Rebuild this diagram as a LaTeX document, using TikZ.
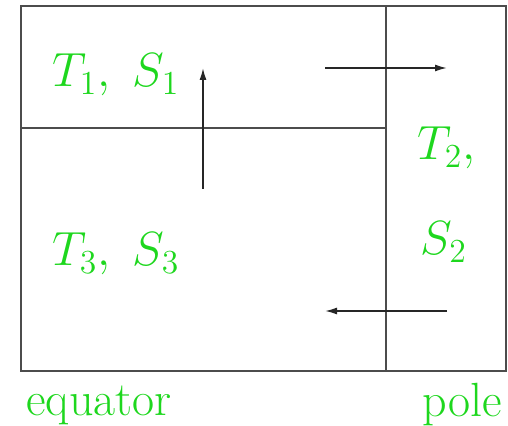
\documentclass[tikz,border=0pt]{standalone}
\usepackage{fix-cm}
\usetikzlibrary{arrows.meta}
\definecolor{wallgray}{gray}{0.3}
\definecolor{boxgreen}{RGB}{30,215,30}
\tikzset{wall/.style={draw=wallgray,line width=1pt},
         flow/.style={draw=black!85,line width=0.8pt,-{Latex[length=6pt,width=3.5pt]}},
         tag/.style={text=boxgreen,inner sep=0pt,font=\fontsize{24}{29}\selectfont}}

\begin{document}
\begin{tikzpicture}[x=0.5pt,y=-0.5pt]
  \useasboundingbox (0,0) rectangle (508,426);
  % boxes
  \draw[wall] (21,6) rectangle (506,371);
  \draw[wall] (386,6) -- (386,371);
  \draw[wall] (21,128) -- (386,128);
  % circulation
  \coordinate (upfrom) at (203,189);
  \coordinate (upto) at (203,68);
  \coordinate (eastfrom) at (325,68);
  \coordinate (eastto) at (447,68);
  \coordinate (westfrom) at (447,311);
  \coordinate (westto) at (325,311);
  \draw[flow] (upfrom) -- (upto);
  \draw[flow] (eastfrom) -- (eastto);
  \draw[flow] (westfrom) -- (westto);
  % labels
  \node[tag,anchor=base west] (top) at (52,87) {$T_1,\ S_1$};
  \node[tag,anchor=base west] (deep) at (52,266) {$T_3,\ S_3$};
  \node[tag,anchor=base west] (polet) at (417,160) {$T_2,$};
  \node[tag,anchor=base west] (poles) at (420,255) {$S_2$};
  \node[tag,anchor=base west] (eq) at (26,416) {equator};
  \node[tag,anchor=base east] (pl) at (502,417) {pole};
\end{tikzpicture}
\end{document}
